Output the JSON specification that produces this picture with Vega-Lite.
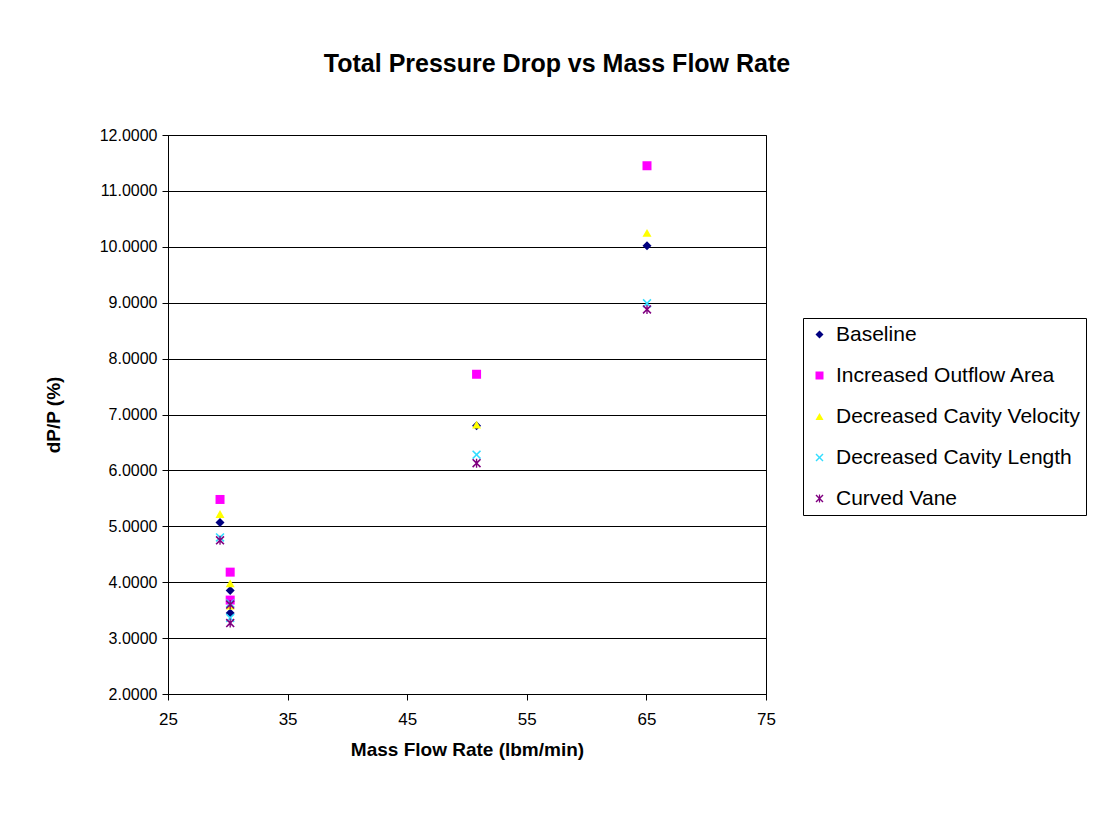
{
  "$schema": "https://vega.github.io/schema/vega-lite/v6.json",
  "width": 598,
  "height": 559,
  "autosize": {"type": "none"},
  "padding": {"left": 168, "top": 135, "right": 348, "bottom": 124},
  "background": "white",
  "title": {
    "text": "Total Pressure Drop vs Mass Flow Rate",
    "font": "Liberation Sans",
    "fontSize": 25,
    "fontWeight": "bold",
    "anchor": "middle",
    "dx": 90,
    "offset": 50,
    "color": "black"
  },
  "data": {
    "values": [
      {"series": "Baseline", "flow": 29.35, "dpp": 5.07},
      {"series": "Baseline", "flow": 30.2, "dpp": 3.85},
      {"series": "Baseline", "flow": 30.2, "dpp": 3.45},
      {"series": "Baseline", "flow": 50.8, "dpp": 6.8},
      {"series": "Baseline", "flow": 65.05, "dpp": 10.02},
      {"series": "Increased Outflow Area", "flow": 29.35, "dpp": 5.48},
      {"series": "Increased Outflow Area", "flow": 30.2, "dpp": 4.18},
      {"series": "Increased Outflow Area", "flow": 30.2, "dpp": 3.68},
      {"series": "Increased Outflow Area", "flow": 50.8, "dpp": 7.72},
      {"series": "Increased Outflow Area", "flow": 65.05, "dpp": 11.45},
      {"series": "Decreased Cavity Velocity", "flow": 29.35, "dpp": 5.22},
      {"series": "Decreased Cavity Velocity", "flow": 30.2, "dpp": 3.98},
      {"series": "Decreased Cavity Velocity", "flow": 30.2, "dpp": 3.58},
      {"series": "Decreased Cavity Velocity", "flow": 50.8, "dpp": 6.82},
      {"series": "Decreased Cavity Velocity", "flow": 65.05, "dpp": 10.25},
      {"series": "Decreased Cavity Length", "flow": 29.35, "dpp": 4.8},
      {"series": "Decreased Cavity Length", "flow": 30.2, "dpp": 3.62},
      {"series": "Decreased Cavity Length", "flow": 30.2, "dpp": 3.36},
      {"series": "Decreased Cavity Length", "flow": 50.8, "dpp": 6.28},
      {"series": "Decreased Cavity Length", "flow": 65.05, "dpp": 8.99},
      {"series": "Curved Vane", "flow": 29.35, "dpp": 4.75},
      {"series": "Curved Vane", "flow": 30.2, "dpp": 3.6},
      {"series": "Curved Vane", "flow": 30.2, "dpp": 3.27},
      {"series": "Curved Vane", "flow": 50.8, "dpp": 6.13},
      {"series": "Curved Vane", "flow": 65.05, "dpp": 8.88}
    ]
  },
  "mark": {"type": "point", "filled": true, "size": 81, "opacity": 1},
  "encoding": {
    "x": {
      "field": "flow",
      "type": "quantitative",
      "scale": {"domain": [25, 75], "nice": false, "zero": false},
      "axis": {
        "title": "Mass Flow Rate (lbm/min)",
        "values": [25, 35, 45, 55, 65, 75],
        "grid": false,
        "tickSize": 6,
        "labelPadding": 11,
        "titlePadding": 13,
        "labelFlush": false,
        "labelFontSize": 17
      }
    },
    "y": {
      "field": "dpp",
      "type": "quantitative",
      "scale": {"domain": [2, 12], "nice": false, "zero": false},
      "axis": {
        "title": "dP/P (%)",
        "values": [2, 3, 4, 5, 6, 7, 8, 9, 10, 11, 12],
        "format": ".4f",
        "grid": true,
        "tickSize": 6,
        "labelPadding": 5,
        "titlePadding": 36,
        "labelFlush": false
      }
    },
    "color": {
      "field": "series",
      "type": "nominal",
      "scale": {
        "domain": ["Baseline", "Increased Outflow Area", "Decreased Cavity Velocity", "Decreased Cavity Length", "Curved Vane"],
        "range": ["#000080", "#FF00FF", "#FFFF00", "#33DDFF", "#800080"]
      },
      "legend": {
        "title": null,
        "orient": "none",
        "legendX": 635,
        "legendY": 183,
        "strokeColor": "black",
        "fillColor": "white",
        "padding": 6,
        "labelFont": "Liberation Sans",
        "labelFontSize": 21,
        "labelColor": "black",
        "symbolSize": 64,
        "rowPadding": 19,
        "labelOffset": 6,
        "labelLimit": 400
      }
    },
    "shape": {
      "field": "series",
      "type": "nominal",
      "scale": {
        "domain": ["Baseline", "Increased Outflow Area", "Decreased Cavity Velocity", "Decreased Cavity Length", "Curved Vane"],
        "range": [
          "diamond",
          "square",
          "triangle-up",
          "M-1,-0.75L-0.75,-1L0,-0.25L0.75,-1L1,-0.75L0.25,0L1,0.75L0.75,1L0,0.25L-0.75,1L-1,0.75L-0.25,0Z",
          "M-1,-0.75L-0.75,-1L0,-0.25L0.75,-1L1,-0.75L0.25,0L1,0.75L0.75,1L0,0.25L-0.75,1L-1,0.75L-0.25,0ZM-0.15,-1L0.15,-1L0.15,1L-0.15,1Z"
        ]
      }
    }
  },
  "config": {
    "view": {"stroke": "black", "strokeWidth": 1},
    "axis": {
      "domainColor": "black",
      "tickColor": "black",
      "gridColor": "black",
      "gridOpacity": 1,
      "labelColor": "black",
      "titleColor": "black",
      "labelFont": "Liberation Sans",
      "labelFontSize": 16,
      "titleFont": "Liberation Sans",
      "titleFontSize": 19,
      "titleFontWeight": "bold"
    }
  }
}
